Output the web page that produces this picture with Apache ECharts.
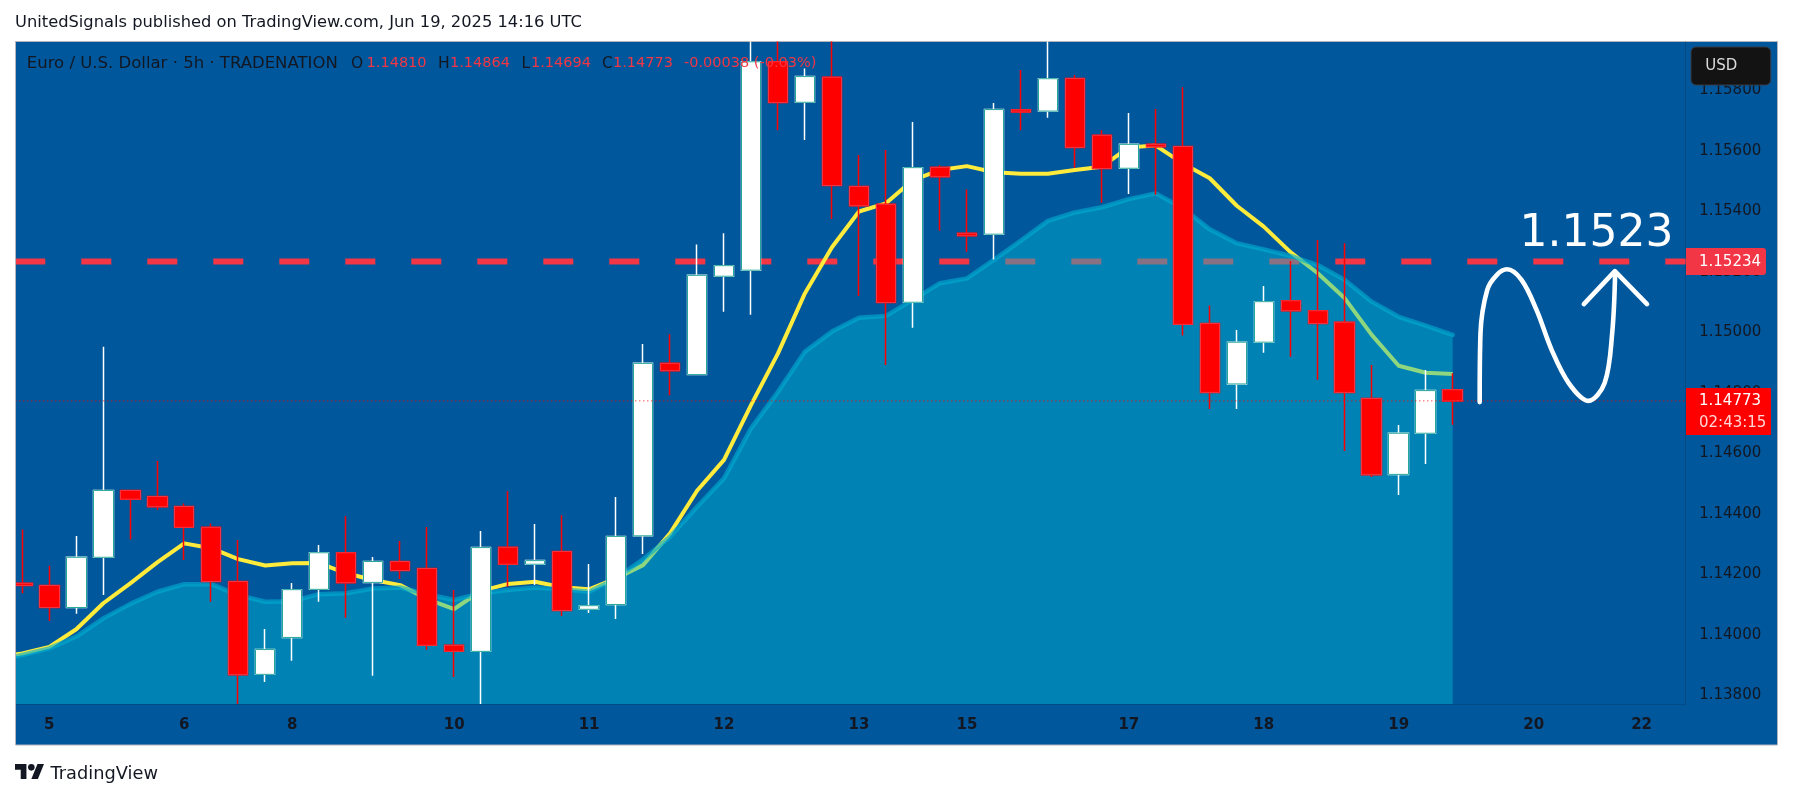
<!DOCTYPE html>
<html>
<head>
<meta charset="utf-8">
<style>html,body{margin:0;padding:0;background:#fff;overflow:hidden}#c{width:1793px;height:799px}</style>
<script src="https://cdn.jsdelivr.net/npm/echarts@6/dist/echarts.min.js"></script>
</head>
<body>
<div id="c"></div>
<script>
// [open, close, low, high]
const candles = [
[1.14170,1.14163,1.14137,1.14348],[1.14163,1.14090,1.14045,1.14228],[1.14090,1.14256,1.14069,1.14326],
[1.14256,1.14477,1.14131,1.14952],[1.14477,1.14448,1.14315,1.14478],[1.14457,1.14423,1.14412,1.14574],
[1.14424,1.14355,1.14247,1.14434],[1.14355,1.14176,1.14109,1.14368],[1.14176,1.13868,1.13771,1.14313],
[1.13869,1.13951,1.13844,1.14019],[1.13991,1.14149,1.13914,1.14171],[1.14150,1.14271,1.14109,1.14297],
[1.14271,1.14172,1.14056,1.14392],[1.14173,1.14242,1.13864,1.14257],[1.14242,1.14212,1.14184,1.14310],
[1.14219,1.13965,1.13950,1.14356],[1.13965,1.13945,1.13860,1.14148],[1.13945,1.14288,1.13771,1.14343],
[1.14289,1.14233,1.14159,1.14474],[1.14233,1.14245,1.14164,1.14366],[1.14275,1.14080,1.14062,1.14395],
[1.14084,1.14096,1.14072,1.14234],[1.14100,1.14325,1.14052,1.14455],[1.14327,1.14897,1.14267,1.14961],
[1.14897,1.14873,1.14792,1.14993],[1.14860,1.15188,1.14860,1.15290],[1.15185,1.15220,1.15068,1.15327],
[1.15205,1.15894,1.15058,1.15961],[1.15894,1.15759,1.15668,1.15961],[1.15760,1.15845,1.15635,1.15872],
[1.15843,1.15485,1.15374,1.15961],[1.15482,1.15418,1.15120,1.15586],[1.15423,1.15098,1.14892,1.15602],
[1.15099,1.15544,1.15015,1.15695],[1.15545,1.15514,1.15335,1.15552],[1.15327,1.15319,1.15266,1.15472],
[1.15324,1.15736,1.15240,1.15758],[1.15735,1.15728,1.15668,1.15867],[1.15731,1.15838,1.15709,1.15961],
[1.15839,1.15611,1.15544,1.15850],[1.15651,1.15541,1.15428,1.15668],[1.15542,1.15621,1.15457,1.15725],
[1.15621,1.15613,1.15454,1.15738],[1.15614,1.15026,1.14989,1.15810],[1.15029,1.14801,1.14746,1.15088],
[1.14829,1.14967,1.14746,1.15007],[1.14967,1.15101,1.14932,1.15153],[1.15104,1.15071,1.14919,1.15235],
[1.15071,1.15029,1.14843,1.15305],[1.15033,1.14801,1.14607,1.15294],[1.14781,1.14529,1.14521,1.14892],
[1.14530,1.14666,1.14462,1.14693],[1.14666,1.14807,1.14564,1.14875],[1.14810,1.14773,1.14694,1.14864]
];
// value for the bar just left of the visible window, then one per candle
const yellowMA = [1.13925,
1.13938,1.13960,1.14018,1.14104,1.14170,1.14239,1.14302,1.14286,1.14250,1.14229,1.14236,1.14237,1.14203,1.14181,1.14164,1.14118,1.14085,1.14145,
1.14168,1.14175,1.14157,1.14150,1.14186,1.14230,1.14335,1.14476,1.14578,1.14759,1.14930,1.15129,1.15281,1.15399,1.15426,1.15503,1.15536,1.15549,
1.15529,1.15524,1.15524,1.15536,1.15547,1.15611,1.15617,1.15558,1.15509,1.15418,1.15349,1.15264,1.15195,1.15112,1.14991,1.14889,1.14866,1.14862];
const cyanMA = [1.13915,
1.13933,1.13955,1.13994,1.14054,1.14102,1.14142,1.14167,1.14167,1.14131,1.14109,1.14111,1.14134,1.14137,1.14153,1.14156,1.14134,1.14115,1.14137,
1.14148,1.14156,1.14150,1.14142,1.14186,1.14249,1.14324,1.14423,1.14517,1.14682,1.14803,1.14936,1.15002,1.15048,1.15054,1.15107,1.15162,1.15178,
1.15239,1.15303,1.15368,1.15396,1.15413,1.15440,1.15459,1.15410,1.15340,1.15294,1.15274,1.15252,1.15222,1.15173,1.15101,1.15051,1.15022,1.14991];
const resistance = 1.15234;
const lastPrice = 1.14773;
const countdown = '02:43:15';
const priceTicks = [1.138,1.14,1.142,1.144,1.146,1.148,1.15,1.152,1.154,1.156,1.158];
const timeTickIdx = [1,6,10,16,21,26,31,35,41,46,51,56,60];
const timeTickText = ['5','6','8','10','11','12','13','15','17','18','19','20','22'];
const waveIdx = [54.00,54.03,54.28,54.63,55.01,55.55,56.11,56.67,57.30,58.03,58.63,58.91,59.02];
const wavePrice = [1.14769,1.14997,1.15140,1.15189,1.15208,1.15173,1.15073,1.14941,1.14832,1.14773,1.14832,1.14997,1.15199];
const arrowIdx = [57.86,59.01,60.20];
const arrowPrice = [1.15093,1.15202,1.15093];

const FONT = '"DejaVu Sans", sans-serif';
const DARK = '#131722';
const RED = '#F23645';
const xMin = -0.26, xMax = 61.63, yMin = 1.13771, yMax = 1.15961;

const ma = arr => arr.map((v, i) => [i - 1, v]);
const chart = echarts.init(document.getElementById('c'), null, {renderer: 'canvas', width: 1793, height: 799});

const txt = (x, y, text, fill, fontSize, extra) => ({
  type: 'text', x, y, z: 100, silent: true,
  style: Object.assign({text, fill, font: `${fontSize}px ${FONT}`, verticalAlign: 'middle'}, extra || {})
});

const baseGraphics = [
  {type: 'rect', z: -10, silent: true, shape: {x: 15.5, y: 41.5, width: 1762, height: 703.5},
    style: {fill: '#01579B', stroke: '#B2B5BE', lineWidth: 1}},
  {type: 'rect', z: 50, silent: true, shape: {x: 0, y: 41, width: 15, height: 705}, style: {fill: '#ffffff'}},
  {type: 'rect', z: 51, silent: true, shape: {x: 15, y: 41, width: 1, height: 704}, style: {fill: '#B2B5BE'}},
  txt(15, 23, 'UnitedSignals published on TradingView.com, Jun 19, 2025 14:16 UTC', '#131722', 16.3),
  txt(26.8, 63.5, 'Euro / U.S. Dollar · 5h · TRADENATION', DARK, 16.5),
  txt(351, 63.5, 'O', DARK, 15.5), txt(366.6, 63.5, '1.14810', RED, 14.5),
  txt(438, 63.5, 'H', DARK, 15.5), txt(450, 63.5, '1.14864', RED, 14.5),
  txt(521.6, 63.5, 'L', DARK, 15.5), txt(531, 63.5, '1.14694', RED, 14.5),
  txt(602, 63.5, 'C', DARK, 15.5), txt(613, 63.5, '1.14773', RED, 14.5),
  txt(684, 63.5, '-0.00038 (-0.03%)', RED, 14.5),
  {type: 'rect', z: 100, silent: true, shape: {x: 1691, y: 47, width: 79.7, height: 38, r: 5},
    style: {fill: '#131313', stroke: '#363A45', lineWidth: 1}},
  txt(1705.3, 66, 'USD', '#DBDBDB', 15),
  txt(1519.6, 235, '1.1523', '#ffffff', 44),
  {type: 'group', x: 15, y: 760.7, scaleX: 0.817, scaleY: 0.833, silent: true, children: [
    {type: 'polygon', z: 100, shape: {points: [[0,4],[14,4],[14,22],[7,22],[7,11],[0,11]]}, style: {fill: '#131722'}},
    {type: 'polygon', z: 100, shape: {points: [[20,22],[28,22],[35.5,4],[27.5,4]]}, style: {fill: '#131722'}},
    {type: 'circle', z: 100, shape: {cx: 20, cy: 8, r: 4}, style: {fill: '#131722'}}
  ]},
  txt(50.5, 774, 'TradingView', '#131722', 17.8)
];

chart.setOption({
  animation: false,
  backgroundColor: '#ffffff',
  grid: {left: 15.3, right: 107.4, top: 41.5, bottom: 95, containLabel: false},
  xAxis: {
    type: 'value', min: xMin, max: xMax, splitLine: {show: false}, axisTick: {show: false},
    axisLine: {show: true, onZero: false, lineStyle: {color: 'rgba(19,23,34,0.18)', width: 1}},
    axisLabel: {
      customValues: timeTickIdx, margin: 14,
      formatter: v => timeTickText[timeTickIdx.indexOf(v)] || '',
      color: DARK, fontFamily: FONT, fontSize: 15, fontWeight: 'bold'
    }
  },
  yAxis: {
    type: 'value', position: 'right', min: yMin, max: yMax, scale: true, splitLine: {show: false}, axisTick: {show: false},
    axisLine: {show: true, onZero: false, lineStyle: {color: 'rgba(19,23,34,0.18)', width: 1}},
    axisLabel: {
      customValues: priceTicks, margin: 13.6, align: 'left',
      formatter: v => v.toFixed(5), color: DARK, fontFamily: FONT, fontSize: 15
    }
  },
  series: [
    {
      name: 'Resistance', type: 'line', z: 1, symbol: 'none', silent: true,
      data: [[xMin, resistance], [xMax, resistance]],
      lineStyle: {color: RED, width: 6, type: [30, 36], cap: 'butt'}
    },
    {
      name: 'MA fast', type: 'line', z: 2, symbol: 'none', silent: true,
      data: ma(yellowMA), lineStyle: {color: '#FFEB3B', width: 4, join: 'round'}
    },
    {
      name: 'MA slow', type: 'line', z: 3, symbol: 'none', silent: true,
      data: ma(cyanMA),
      lineStyle: {color: 'rgba(0,172,210,0.62)', width: 4.5, join: 'round', cap: 'round'},
      areaStyle: {color: 'rgba(0,188,212,0.44)', opacity: 1, origin: 'start'}
    },
    {
      name: 'Wicks', type: 'candlestick', z: 4, silent: true, barWidth: 20,
      data: candles.map((c, i) => [i, c[0], c[1], c[2], c[3]]),
      itemStyle: {color: '#ffffff', color0: '#FF0000', borderColor: '#ffffff', borderColor0: '#FF0000', borderWidth: 1.5}
    },
    {
      name: 'Bodies', type: 'candlestick', z: 5, silent: true, barWidth: 20,
      data: candles.map((c, i) => [i, c[0], c[1], Math.min(c[0], c[1]), Math.max(c[0], c[1])]),
      itemStyle: {color: '#ffffff', color0: '#FF0000', borderColor: '#26A69A', borderColor0: RED, borderWidth: 1}
    },
    {
      name: 'Last', type: 'line', z: 6, symbol: 'none', silent: true,
      data: [[xMin, lastPrice], [xMax, lastPrice]],
      lineStyle: {color: '#FF0000', width: 1, type: [1, 3]}
    },
    {
      name: 'Wave', type: 'line', z: 7, symbol: 'none', silent: true, smooth: 0.35,
      data: waveIdx.map((x, i) => [x, wavePrice[i]]),
      lineStyle: {color: '#fff', width: 4.6, cap: 'round', join: 'round'}
    },
    {
      name: 'Arrow', type: 'line', z: 7, symbol: 'none', silent: true,
      data: arrowIdx.map((x, i) => [x, arrowPrice[i]]),
      lineStyle: {color: '#fff', width: 4.6, cap: 'round', join: 'round'}
    }
  ],
  graphic: {elements: baseGraphics}
});

// price tags follow the library's y scale
const pxY = v => chart.convertToPixel({gridIndex: 0}, [xMax, v])[1];
const yR = pxY(resistance), yL = pxY(lastPrice);
chart.setOption({graphic: {elements: baseGraphics.concat([
  {type: 'rect', z: 60, silent: true, shape: {x: 1686, y: yR - 13.5, width: 80, height: 27, r: [0, 3, 3, 0]}, style: {fill: RED}},
  txt(1699, yR + 0.5, resistance.toFixed(5), '#ffffff', 15),
  {type: 'rect', z: 60, silent: true, shape: {x: 1686, y: yL - 13, width: 85, height: 47}, style: {fill: '#FF0000'}},
  txt(1699, yL + 0.5, lastPrice.toFixed(5), '#ffffff', 15),
  txt(1699, yL + 22, countdown, '#FFD6D6', 15)
])}});
</script>
</body>
</html>
